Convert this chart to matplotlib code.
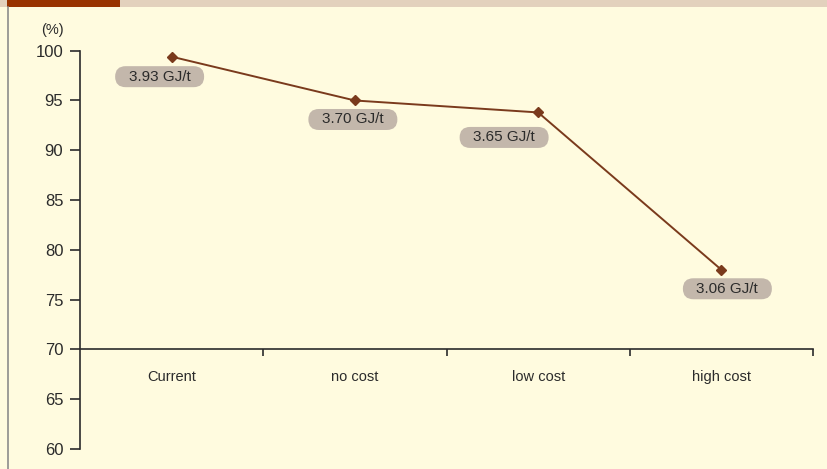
import matplotlib
matplotlib.use('Agg')
import matplotlib.pyplot as plt
from matplotlib.patches import Rectangle, FancyBboxPatch
from matplotlib.lines import Line2D
from matplotlib.transforms import IdentityTransform

# energy intensity scenarios, relative to current level
categories = ['Current', 'no cost', 'low cost', 'high cost']
values = [99.4, 95.0, 93.8, 78.0]
labels = ['3.93 GJ/t', '3.70 GJ/t', '3.65 GJ/t', '3.06 GJ/t']
y_ticks = [60, 65, 70, 75, 80, 85, 90, 95, 100]

# label offsets from each point (pixels)
label_offsets = [(-12, -20), (-2, -19), (-34, -25), (6, -19)]

plt.rcParams['font.family'] = ['Liberation Sans', 'DejaVu Sans']

bg = '#FFFBDF'
line_col = '#7A3A1C'
axis_col = '#2B2B2B'
text_col = '#2B2B2B'

W, H = 827, 469
fig = plt.figure(figsize=(W / 100, H / 100), dpi=100)
fig.patch.set_facecolor(bg)

# header strip and left frame
fig.add_artist(Rectangle((0, 1 - 7 / H), 1, 7 / H, transform=fig.transFigure,
                         facecolor='#E3D1BD', edgecolor='none'))
fig.add_artist(Rectangle((7 / W, 1 - 7 / H), 113 / W, 7 / H, transform=fig.transFigure,
                         facecolor='#993300', edgecolor='none'))
fig.add_artist(Line2D([8 / W, 8 / W], [0, 1 - 7 / H], transform=fig.transFigure,
                      color='#8C8C8C', linewidth=1.2))

ax = fig.add_axes([80 / W, 1 - 449 / H, 733 / W, 398.3 / H])
ax.set_facecolor('none')

x = [i + 0.5 for i in range(len(categories))]
ax.plot(x, values, color=line_col, linewidth=1.4, marker='D', markersize=5,
        markerfacecolor=line_col, markeredgecolor=line_col, clip_on=False, zorder=3)

value_texts = []
for xi, v, lab, off in zip(x, values, labels, label_offsets):
    t = ax.annotate(lab, (xi, v), xytext=off, textcoords='offset pixels',
                    ha='center', va='center', fontsize=11, color=text_col, zorder=5)
    value_texts.append(t)

ax.set_xlim(0, 4)
ax.set_ylim(60, 100)

ax.spines['top'].set_visible(False)
ax.spines['right'].set_visible(False)
ax.spines['left'].set_color(axis_col)
ax.spines['bottom'].set_color(axis_col)
ax.spines['left'].set_linewidth(1.2)
ax.spines['bottom'].set_linewidth(1.2)
ax.spines['bottom'].set_position(('data', 70))

ax.set_yticks(y_ticks)
ax.set_yticklabels([str(t) for t in y_ticks], fontsize=12, color=text_col)
ax.tick_params(axis='y', length=7, width=1.2, color=axis_col, pad=5)

ax.set_xticks([1, 2, 3, 4])
ax.set_xticklabels([])
ax.tick_params(axis='x', direction='out', length=5, width=1.2, color=axis_col)

for xi, cat in zip(x, categories):
    ax.text(xi, 67.9, cat, ha='center', va='top', fontsize=10.5, color=text_col)

ax.text(-0.15, 101.4, '(%)', ha='center', va='bottom', fontsize=10.5, color=text_col,
        clip_on=False)

# rounded pill behind each value label, wider than tall
fig.canvas.draw()
renderer = fig.canvas.get_renderer()
for t in value_texts:
    bb = t.get_window_extent(renderer)
    cx, cy = (bb.x0 + bb.x1) / 2, (bb.y0 + bb.y1) / 2
    bw, bh = 89, 21
    pill = FancyBboxPatch((cx - bw / 2, cy - bh / 2), bw, bh,
                          boxstyle='round,pad=0,rounding_size=10.5',
                          transform=IdentityTransform(), facecolor='#C3B7AB',
                          edgecolor='none', zorder=4, clip_on=False)
    ax.add_patch(pill)

fig.savefig('out.png', dpi=100, facecolor=bg)
